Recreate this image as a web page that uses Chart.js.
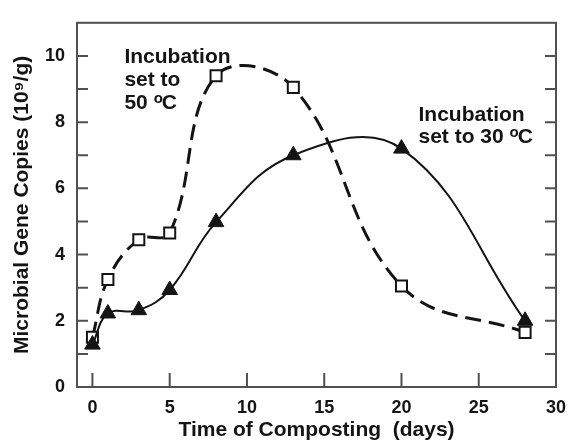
<!DOCTYPE html>
<html><head><meta charset="utf-8">
<script src="https://cdn.jsdelivr.net/npm/chart.js@4/dist/chart.umd.min.js"></script>
<style>html,body{margin:0;padding:0;background:#fff}</style>
</head><body>
<canvas id="c" width="576" height="446"></canvas>
<script>
// ---- data ----
const days50 = [0, 1, 3, 5, 8, 13, 20, 28];
const copies50 = [1.5, 3.25, 4.45, 4.65, 9.4, 9.05, 3.05, 1.65];
const days30 = [0, 1, 3, 5, 8, 13, 20, 28];
const copies30 = [1.28, 2.22, 2.32, 2.93, 4.98, 7.0, 7.2, 2.0];
const xTickLabels = [0, 5, 10, 15, 20, 25, 30];
const xTickMarks = [0, 5, 10, 15, 20, 25];
const yTickLabels = [0, 2, 4, 6, 8, 10];
const yTickMarks = [1, 2, 3, 4, 5, 6, 7, 8, 9, 10];
const note50 = ['Incubation', 'set to', '50 °C'];
const note30 = ['Incubation', 'set to 30 °C'];
const xTitle = 'Time of Composting  (days)';
const yTitle = 'Microbial Gene Copies (10\u2079/g)';

const INK = '#141414';
const FRAME = '#505050';
const FONT = "'Liberation Sans', Arial, Helvetica, sans-serif";
const NARROW = "'Liberation Sans Narrow', 'Arial Narrow', 'Liberation Sans', Arial, sans-serif";

function drawNote(ctx, x, y, lines, lh) {
  ctx.save();
  ctx.fillStyle = INK;
  ctx.textBaseline = 'alphabetic';
  ctx.textAlign = 'left';
  lines.forEach((line, i) => {
    const by = y + i * lh;
    let cx = x;
    const parts = line.split('°');
    parts.forEach((p, j) => {
      ctx.font = 'bold 21px ' + FONT;
      if (p) { ctx.fillText(p, cx, by); cx += ctx.measureText(p).width; }
      if (j < parts.length - 1) {
        ctx.font = 'bold 15px ' + FONT;
        ctx.fillText('o', cx, by - 6);
        cx += ctx.measureText('o').width - 1;
      }
    });
  });
  ctx.restore();
}

const framePlugin = {
  id: 'frameTicks',
  beforeDatasetsDraw(chart) {
    const {ctx, chartArea: a, scales: {x, y}} = chart;
    ctx.save();
    ctx.strokeStyle = FRAME;
    ctx.lineWidth = 2;
    ctx.strokeRect(a.left, a.top, a.right - a.left, a.bottom - a.top);
    ctx.beginPath();
    yTickMarks.forEach(v => {
      const py = y.getPixelForValue(v);
      ctx.moveTo(a.left, py); ctx.lineTo(a.left + 11, py);
      ctx.moveTo(a.right, py); ctx.lineTo(a.right - 11, py);
    });
    xTickMarks.forEach(v => {
      const px = x.getPixelForValue(v);
      ctx.moveTo(px, a.bottom); ctx.lineTo(px, a.bottom - 14);
    });
    ctx.stroke();
    ctx.restore();
  },
  afterDraw(chart) {
    const {ctx, scales: {x, y}} = chart;
    drawNote(ctx, x.getPixelForValue(2.07), y.getPixelForValue(9.79), note50, 23);
    drawNote(ctx, x.getPixelForValue(21.1), y.getPixelForValue(8.02), note30, 22);
  }
};

new Chart(document.getElementById('c'), {
  type: 'line',
  data: {
    datasets: [
      {
        label: 'Incubation set to 30 °C',
        data: days30.map((d, i) => ({x: d, y: copies30[i]})),
        borderColor: INK, borderWidth: 2, tension: 0.4, fill: false,
        pointStyle: 'triangle', pointRadius: 9, pointBackgroundColor: INK,
        pointBorderColor: INK, pointBorderWidth: 1
      },
      {
        label: 'Incubation set to 50 °C',
        data: days50.map((d, i) => ({x: d, y: copies50[i]})),
        borderColor: INK, borderWidth: 3, borderDash: [16, 8], tension: 0.4, fill: false,
        pointStyle: 'rect', pointRadius: 7.8, pointBackgroundColor: '#ffffff',
        pointBorderColor: INK, pointBorderWidth: 2
      }
    ]
  },
  options: {
    responsive: false,
    animation: false,
    devicePixelRatio: 1,
    layout: {padding: {top: 5, right: 16, left: 0, bottom: 0}},
    plugins: {legend: {display: false}, tooltip: {enabled: false}},
    scales: {
      x: {
        type: 'linear', min: -1, max: 30,
        afterBuildTicks: s => { s.ticks = xTickLabels.map(v => ({value: v})); },
        afterFit: s => { s.height = 59; },
        grid: {display: false, drawTicks: false},
        border: {display: false},
        ticks: {color: INK, font: {family: NARROW, size: 18, weight: 'bold'}, padding: 10, maxRotation: 0},
        title: {display: true, text: xTitle, color: INK, font: {family: FONT, size: 21, weight: 'bold'}, padding: {top: 0, bottom: 3}}
      },
      y: {
        type: 'linear', min: 0, max: 11,
        afterBuildTicks: s => { s.ticks = yTickLabels.map(v => ({value: v})); },
        afterFit: s => { s.width = 77; },
        grid: {display: false, drawTicks: false},
        border: {display: false},
        ticks: {color: INK, font: {family: NARROW, size: 18, weight: 'bold'}, padding: 12},
        title: {display: true, text: yTitle, color: INK, font: {family: FONT, size: 21, weight: 'bold'}, padding: {top: 10, bottom: 0}}
      }
    }
  },
  plugins: [framePlugin]
});
</script>
</body></html>
